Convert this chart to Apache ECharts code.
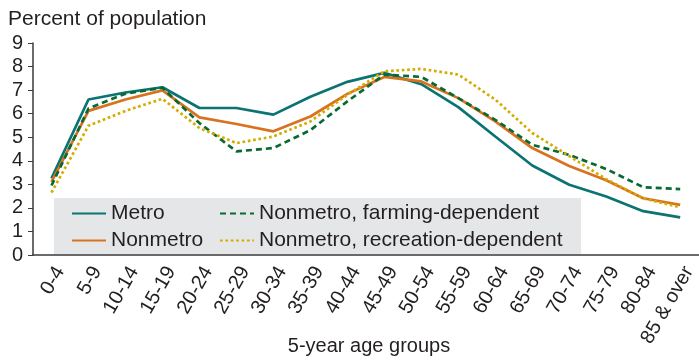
<!DOCTYPE html>
<html>
<head>
<meta charset="utf-8">
<script src="https://cdn.jsdelivr.net/npm/echarts@6/dist/echarts.min.js"></script>
<style>html,body{margin:0;padding:0;background:#fff}#c{width:699px;height:360px}</style>
</head>
<body>
<div id="c"></div>
<script>
var categories = ['0-4','5-9','10-14','15-19','20-24','25-29','30-34','35-39','40-44','45-49','50-54','55-59','60-64','65-69','70-74','75-79','80-84','85 & over'];
var metro      = [3.25,6.6,6.9,7.12,6.24,6.24,5.96,6.72,7.35,7.73,7.25,6.28,5.03,3.8,2.98,2.48,1.86,1.6];
var nonmetro   = [3.1,6.12,6.6,6.99,5.84,5.56,5.25,5.88,6.84,7.56,7.37,6.66,5.67,4.54,3.78,3.17,2.41,2.13];
var farming    = [2.95,6.22,6.85,7.1,5.6,4.4,4.54,5.3,6.52,7.66,7.56,6.66,5.74,4.68,4.25,3.65,2.88,2.8];
var recreation = [2.65,5.49,6.12,6.63,5.39,4.75,5.03,5.67,6.8,7.8,7.9,7.66,6.6,5.18,4.2,3.22,2.4,2.03];
var yTicks = [0,1,2,3,4,5,6,7,8,9];

var FONT = '"Liberation Sans", Arial, Helvetica, sans-serif';
var TXT = '#231f20';
var chart = echarts.init(document.getElementById('c'), null, {renderer:'canvas'});
function mk(name, data, color, type, width){
  return {name:name, type:'line', data:data, symbol:'none', showSymbol:false, z:5,
    lineStyle:{color:color, width:width, type:type}, itemStyle:{color:color}};
}
var legendCommon = {orient:'vertical', top:203, padding:0, itemWidth:34, itemHeight:14, itemGap:6, z:20,
  itemStyle:{opacity:0, borderWidth:0},
  textStyle:{fontFamily:FONT, fontSize:21, color:TXT, lineHeight:21}};
chart.setOption({
  animation:false,
  title:{text:'Percent of population', left:3, top:9, padding:[0,5], textStyle:{fontFamily:FONT, fontSize:21, fontWeight:'normal', color:TXT}},
  grid:{left:33, right:0, top:43, bottom:105, containLabel:false},
  graphic:[
    {type:'rect', left:54, top:198, z:1, shape:{width:527, height:56}, style:{fill:'#e5e6e7'}},
    {type:'text', x:369, y:346, z:10, style:{text:'5-year age groups', font:'20px '+FONT, fill:TXT, textAlign:'center', textVerticalAlign:'middle'}}
  ],
  legend:[
    Object.assign({data:['Metro','Nonmetro'], left:71}, legendCommon),
    Object.assign({data:['Nonmetro, farming-dependent','Nonmetro, recreation-dependent'], left:219}, legendCommon)
  ],
  xAxis:{type:'category', data:categories, boundaryGap:true,
    axisLine:{lineStyle:{color:'#3a3a3a', width:1.5}},
    axisTick:{alignWithLabel:true, length:6, lineStyle:{color:'#3a3a3a', width:1}},
    axisLabel:{rotate:60, interval:0, margin:8, verticalAlign:'top', fontFamily:FONT, fontSize:20, color:TXT}},
  yAxis:{type:'value', min:0, max:9, interval:1,
    axisLine:{show:true, lineStyle:{color:'#3a3a3a', width:1.5}},
    axisTick:{show:true, length:5, lineStyle:{color:'#3a3a3a', width:1}},
    splitLine:{show:false},
    axisLabel:{margin:10, fontFamily:FONT, fontSize:20, color:TXT, formatter:function(v){return yTicks.indexOf(v)>=0?String(v):'';}}},
  series:[
    mk('Metro', metro, '#0b7372', 'solid', 2.7),
    mk('Nonmetro', nonmetro, '#d8721f', 'solid', 2.7),
    mk('Nonmetro, farming-dependent', farming, '#086a33', [6,4], 2.7),
    mk('Nonmetro, recreation-dependent', recreation, '#d4ac00', [2.7,2.7], 2.7)
  ]
});
</script>
</body>
</html>
